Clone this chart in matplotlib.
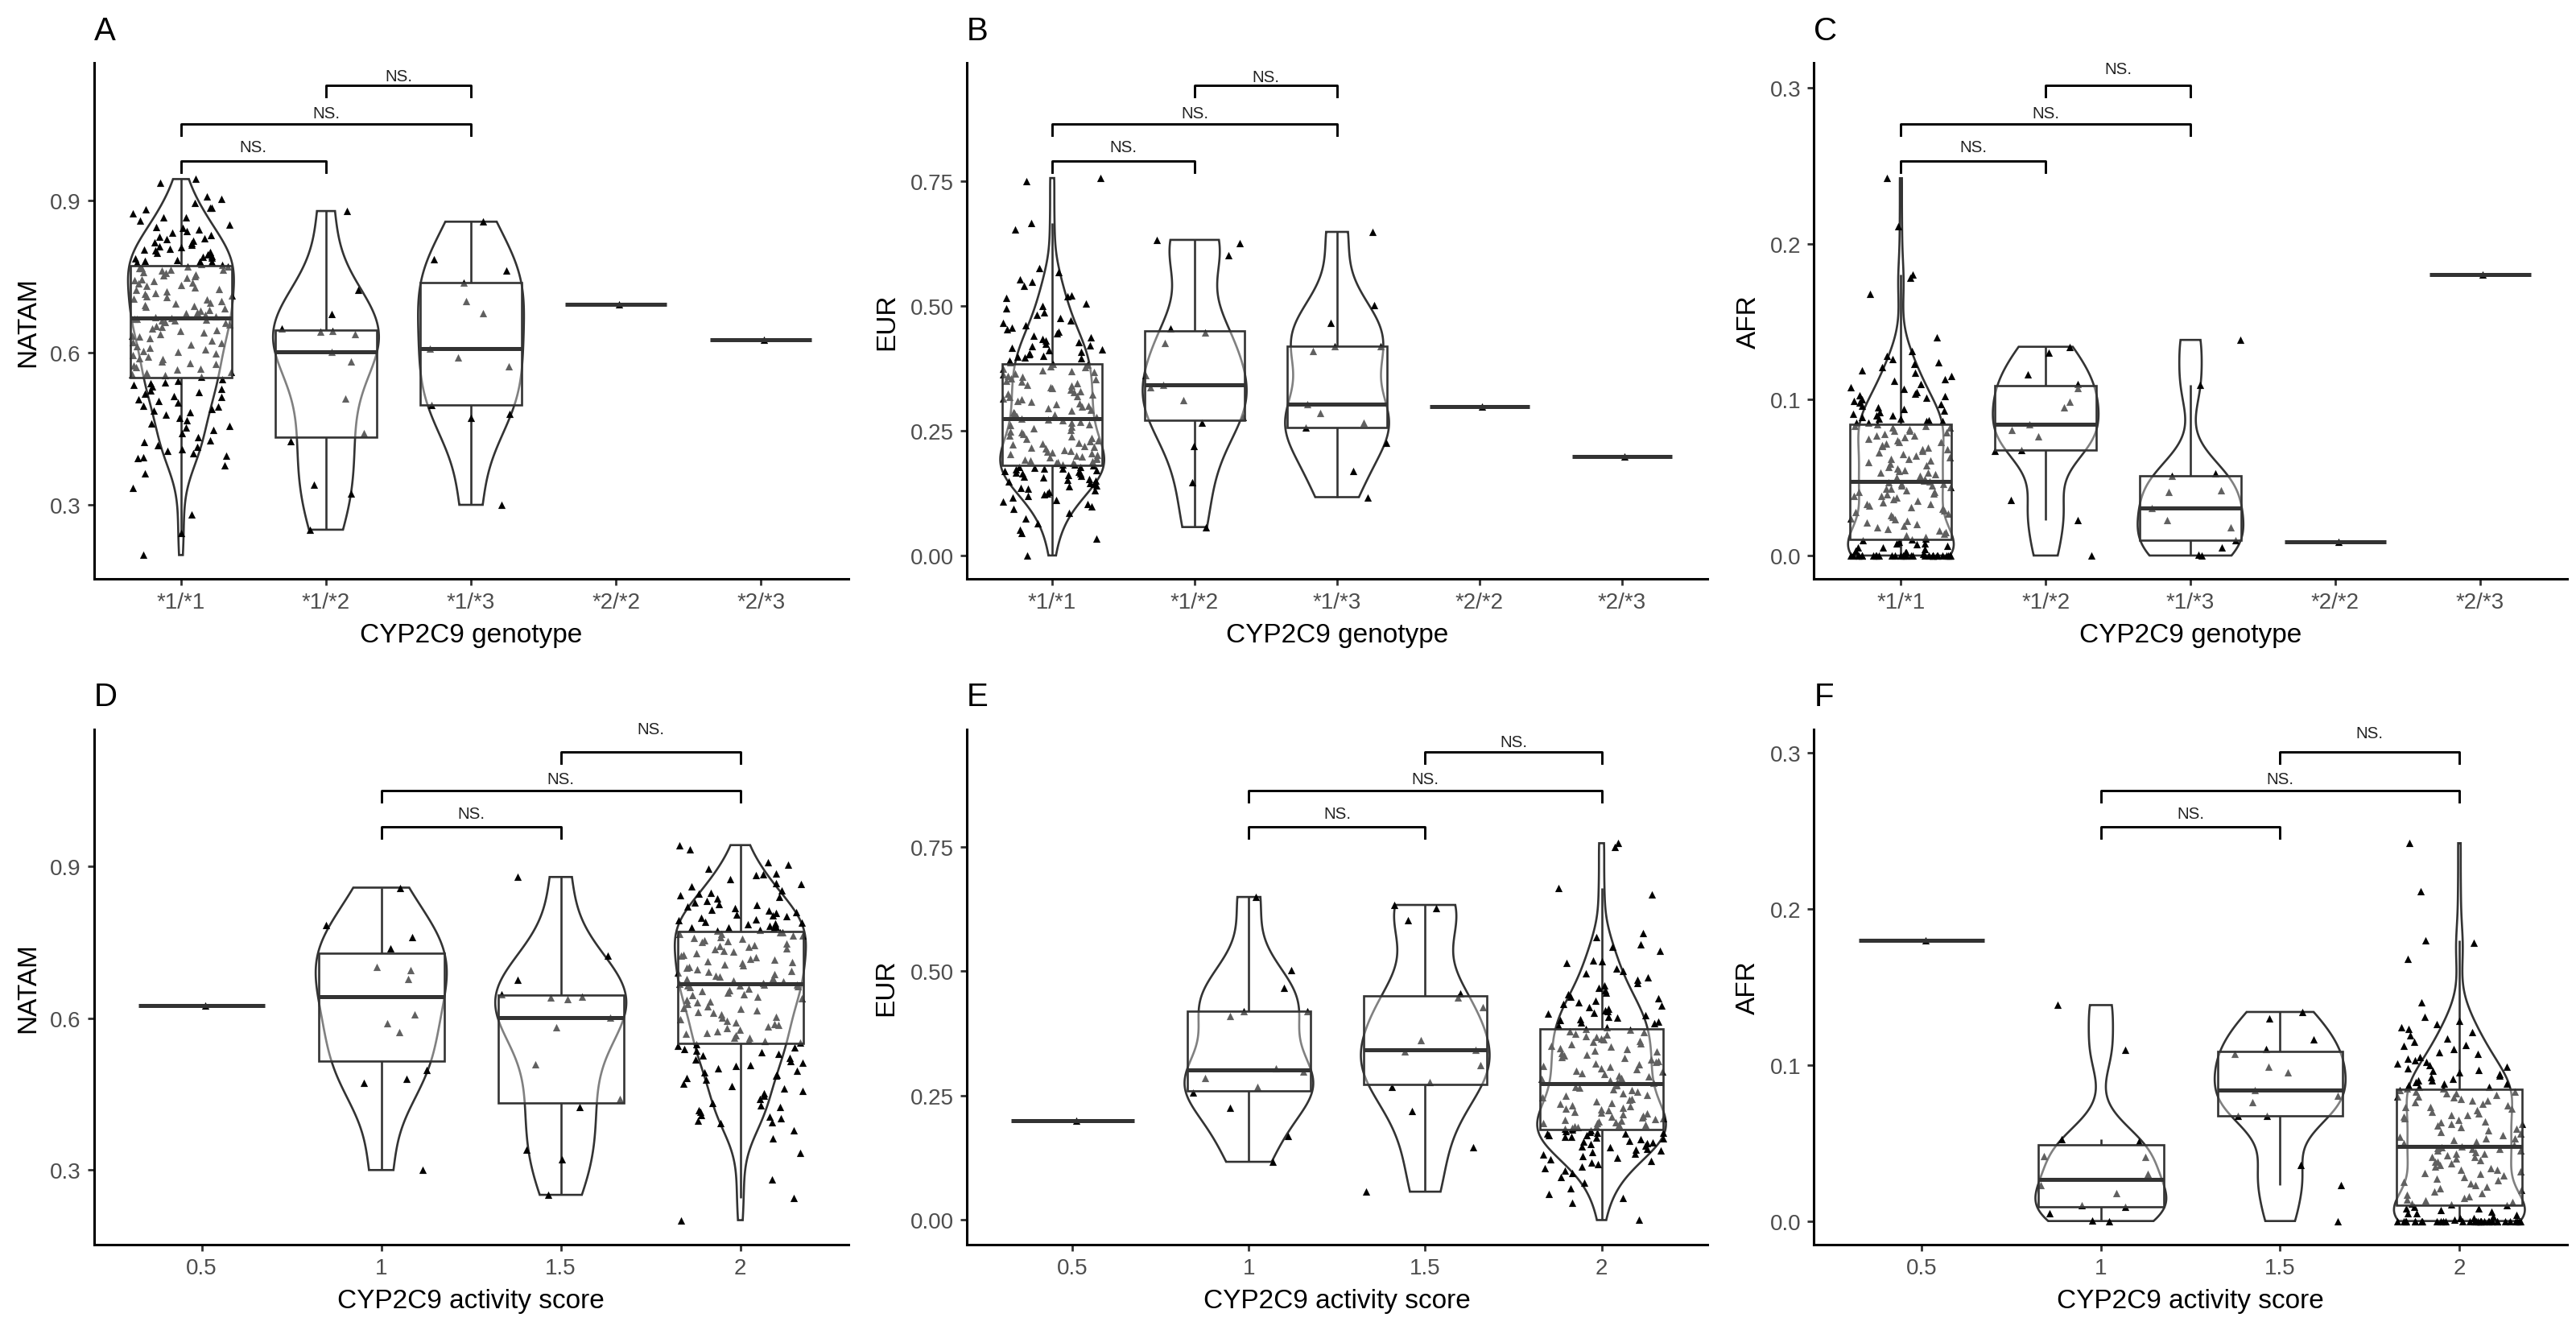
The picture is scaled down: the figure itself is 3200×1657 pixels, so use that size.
import numpy as np
import matplotlib
matplotlib.use("Agg")
import matplotlib.pyplot as plt
from matplotlib.patches import Rectangle, Polygon
from matplotlib.transforms import blended_transform_factory

plt.rcParams['font.family'] = ['Liberation Sans', 'DejaVu Sans']

# ---------------- data ----------------
GENOTYPES = ['*1/*1', '*1/*2', '*1/*3', '*2/*2', '*2/*3']
SCORES = ['0.5', '1', '1.5', '2']
GENO_TO_SCORE = {'*1/*1': '2', '*1/*2': '1.5', '*1/*3': '1', '*2/*2': '1', '*2/*3': '0.5'}

NATAM_11 = [0.201, 0.245, 0.281, 0.334, 0.362, 0.378, 0.392, 0.394, 0.397, 0.402,
            0.406, 0.409, 0.415, 0.418, 0.424, 0.427, 0.433, 0.441, 0.447, 0.452,
            0.456, 0.461, 0.466, 0.471, 0.478, 0.482, 0.486, 0.489, 0.493, 0.496,
            0.501, 0.505, 0.508, 0.512, 0.515, 0.519, 0.522, 0.526, 0.529, 0.533,
            0.536, 0.539, 0.542, 0.545, 0.548,
            0.552, 0.555, 0.557, 0.561, 0.562, 0.566, 0.569, 0.571, 0.574, 0.578,
            0.580, 0.583, 0.587, 0.589, 0.592, 0.595, 0.598, 0.601, 0.603, 0.607,
            0.610, 0.612, 0.616, 0.619, 0.621, 0.624, 0.628, 0.631, 0.633, 0.636,
            0.640, 0.642, 0.645, 0.648, 0.650, 0.653, 0.656, 0.658, 0.661, 0.663,
            0.664, 0.665, 0.666, 0.667, 0.668,
            0.669, 0.672, 0.674, 0.677, 0.679, 0.682, 0.684, 0.687, 0.690, 0.692,
            0.694, 0.697, 0.699, 0.702, 0.704, 0.706, 0.709, 0.711, 0.713, 0.716,
            0.718, 0.721, 0.723, 0.726, 0.728, 0.731, 0.733, 0.736, 0.738, 0.741,
            0.743, 0.745, 0.748, 0.750, 0.752, 0.754, 0.757, 0.759, 0.761, 0.763,
            0.764, 0.766, 0.767, 0.769, 0.770,
            0.773, 0.775, 0.777, 0.779, 0.780, 0.781, 0.783, 0.785, 0.787, 0.789,
            0.791, 0.794, 0.796, 0.799, 0.801, 0.803, 0.805, 0.808, 0.810, 0.813,
            0.815, 0.818, 0.821, 0.824, 0.826, 0.829, 0.832, 0.836, 0.839, 0.843,
            0.846, 0.848, 0.853, 0.860, 0.866, 0.867, 0.875, 0.883, 0.885, 0.886,
            0.895, 0.903, 0.908, 0.934, 0.942]
NATAM_12 = [0.251, 0.322, 0.340, 0.425, 0.441, 0.509, 0.582, 0.601, 0.637, 0.641,
            0.642, 0.648, 0.676, 0.724, 0.879]
NATAM_13 = [0.300, 0.472, 0.480, 0.497, 0.573, 0.590, 0.608, 0.677, 0.701, 0.738,
            0.761, 0.784, 0.858]
NATAM_22 = [0.695]
NATAM_23 = [0.625]

EUR_11 = [0.000, 0.034, 0.045, 0.052, 0.064, 0.075, 0.086, 0.094, 0.099, 0.104,
          0.108, 0.112, 0.116, 0.119, 0.122, 0.125, 0.128, 0.131, 0.134, 0.136,
          0.139, 0.141, 0.143, 0.146, 0.148, 0.150, 0.152, 0.154, 0.156, 0.158,
          0.160, 0.162, 0.164, 0.165, 0.167, 0.168, 0.170, 0.171, 0.173, 0.174,
          0.175, 0.176, 0.177, 0.178, 0.180,
          0.182, 0.183, 0.185, 0.186, 0.188, 0.189, 0.191, 0.192, 0.194, 0.195,
          0.197, 0.198, 0.200, 0.201, 0.203, 0.205, 0.206, 0.208, 0.210, 0.212,
          0.214, 0.216, 0.218, 0.220, 0.222, 0.224, 0.226, 0.229, 0.231, 0.234,
          0.236, 0.239, 0.241, 0.244, 0.247, 0.249, 0.252, 0.255, 0.258, 0.261,
          0.263, 0.266, 0.268, 0.271, 0.273,
          0.275, 0.278, 0.280, 0.283, 0.285, 0.288, 0.290, 0.293, 0.295, 0.298,
          0.300, 0.303, 0.305, 0.308, 0.310, 0.313, 0.315, 0.318, 0.320, 0.323,
          0.325, 0.328, 0.330, 0.333, 0.335, 0.338, 0.340, 0.343, 0.345, 0.348,
          0.350, 0.353, 0.355, 0.358, 0.360, 0.363, 0.365, 0.368, 0.370, 0.372,
          0.375, 0.377, 0.379, 0.382, 0.384,
          0.387, 0.391, 0.395, 0.397, 0.399, 0.401, 0.404, 0.406, 0.409, 0.411,
          0.414, 0.416, 0.419, 0.422, 0.425, 0.428, 0.431, 0.434, 0.437, 0.441,
          0.445, 0.449, 0.453, 0.457, 0.461, 0.466, 0.471, 0.476, 0.482, 0.488,
          0.495, 0.501, 0.505, 0.516, 0.520, 0.522, 0.541, 0.549, 0.554, 0.569,
          0.576, 0.654, 0.667, 0.750, 0.757]
EUR_12 = [0.057, 0.147, 0.219, 0.267, 0.277, 0.311, 0.338, 0.342, 0.362, 0.427,
          0.447, 0.455, 0.603, 0.627, 0.633]
EUR_13 = [0.117, 0.169, 0.226, 0.257, 0.267, 0.285, 0.304, 0.410, 0.419, 0.420,
          0.466, 0.502, 0.649]
EUR_22 = [0.298]
EUR_23 = [0.199]

AFR_11 = [0.0] * 32 + [
          0.001, 0.002, 0.002, 0.003, 0.004, 0.005, 0.005, 0.006, 0.007, 0.008,
          0.008, 0.009, 0.010,
          0.0105, 0.011, 0.012, 0.013, 0.014, 0.015, 0.016, 0.017, 0.018, 0.019,
          0.020, 0.021, 0.022, 0.023, 0.024, 0.025, 0.026, 0.027, 0.028, 0.029,
          0.030, 0.031, 0.032, 0.033, 0.033, 0.034, 0.035, 0.036, 0.037, 0.038,
          0.038, 0.039, 0.040, 0.041, 0.041, 0.042, 0.043, 0.043, 0.044, 0.045,
          0.045, 0.046, 0.046, 0.047, 0.0475,
          0.048, 0.049, 0.050, 0.051, 0.052, 0.053, 0.053, 0.054, 0.055, 0.056,
          0.057, 0.058, 0.059, 0.060, 0.061, 0.062, 0.062, 0.063, 0.064, 0.065,
          0.066, 0.067, 0.068, 0.068, 0.069, 0.070, 0.071, 0.072, 0.073, 0.073,
          0.074, 0.075, 0.076, 0.077, 0.077, 0.078, 0.079, 0.080, 0.080, 0.081,
          0.082, 0.082, 0.083, 0.083, 0.084,
          0.085, 0.085, 0.086, 0.086, 0.087, 0.088, 0.088, 0.089, 0.090, 0.090,
          0.091, 0.092, 0.093, 0.094, 0.095, 0.096, 0.097, 0.098, 0.099, 0.100,
          0.101, 0.102, 0.103, 0.104, 0.105, 0.107, 0.108, 0.110, 0.112, 0.113,
          0.115, 0.117, 0.119, 0.121, 0.123, 0.124, 0.126, 0.128, 0.131, 0.140,
          0.168, 0.178, 0.180, 0.211, 0.242]
AFR_12 = [0.000, 0.0228, 0.0358, 0.0673, 0.0676, 0.0763, 0.0804, 0.084, 0.0952,
          0.0986, 0.1073, 0.1102, 0.1162, 0.1300, 0.1339]
AFR_13 = [0.000, 0.0005, 0.0051, 0.010, 0.018, 0.0228, 0.0303, 0.041, 0.0418,
          0.0509, 0.0525, 0.1095, 0.1383]
AFR_22 = [0.009]
AFR_23 = [0.180]

NATAM = {'*1/*1': NATAM_11, '*1/*2': NATAM_12, '*1/*3': NATAM_13, '*2/*2': NATAM_22, '*2/*3': NATAM_23}
EUR = {'*1/*1': EUR_11, '*1/*2': EUR_12, '*1/*3': EUR_13, '*2/*2': EUR_22, '*2/*3': EUR_23}
AFR = {'*1/*1': AFR_11, '*1/*2': AFR_12, '*1/*3': AFR_13, '*2/*2': AFR_22, '*2/*3': AFR_23}


def by_score(d):
    out = {s: [] for s in SCORES}
    for g in GENOTYPES:
        out[GENO_TO_SCORE[g]].extend(d[g])
    return out


# ---------------- drawing helpers ----------------
LINE = '#333333'
BOX_W = 0.70
VIO_W = 0.73
JIT = 0.35
LW = 0.95


def kde_violin(ax, x, v):
    v = np.asarray(v, float)
    n = len(v)
    sd = v.std(ddof=1)
    iqr = np.subtract(*np.percentile(v, [75, 25]))
    lo = min(sd, iqr / 1.34) if iqr > 0 else sd
    bw = 0.9 * lo * n ** (-0.2)
    y = np.linspace(v.min(), v.max(), 512)
    dens = np.exp(-0.5 * ((y[:, None] - v[None, :]) / bw) ** 2).sum(axis=1)
    hw = 0.5 * VIO_W * dens / dens.max()
    xs = np.concatenate([x - hw, (x + hw)[::-1]])
    ys = np.concatenate([y, y[::-1]])
    ax.add_patch(Polygon(np.column_stack([xs, ys]), closed=True, fill=False,
                         edgecolor=LINE, lw=LW, zorder=2))


def draw_group(ax, x, vals, rng):
    v = np.asarray(vals, float)
    n = len(v)
    if n >= 2:
        kde_violin(ax, x, v)
    q1, med, q3 = np.percentile(v, [25, 50, 75])
    iqr = q3 - q1
    wlo = v[v >= q1 - 1.5 * iqr].min()
    whi = v[v <= q3 + 1.5 * iqr].max()
    if n >= 2:
        ax.plot([x, x], [wlo, q1], color=LINE, lw=LW, zorder=2, solid_capstyle='butt')
        ax.plot([x, x], [q3, whi], color=LINE, lw=LW, zorder=2, solid_capstyle='butt')
    jx = x + rng.uniform(-JIT, JIT, n) if n > 1 else np.array([x + 0.02])
    ax.scatter(jx, v, marker='^', s=11, color='black', linewidths=0, zorder=3)
    if n >= 2:
        ax.add_patch(Rectangle((x - BOX_W / 2, q1), BOX_W, q3 - q1,
                               facecolor=(1, 1, 1, 0.38), edgecolor=LINE,
                               lw=LW, zorder=4))
    ax.plot([x - BOX_W / 2, x + BOX_W / 2], [med, med], color=LINE, lw=1.8,
            zorder=5, solid_capstyle='butt')


def bracket(ax, x1, x2, yf, tf, label='NS.'):
    tr = blended_transform_factory(ax.transData, ax.transAxes)
    tip = 0.022
    ax.plot([x1, x1, x2, x2], [yf - tip, yf, yf, yf - tip], color='black',
            lw=1.05, transform=tr, clip_on=False, zorder=6)
    ax.text((x1 + x2) / 2, tf, label, transform=tr, ha='center', va='center',
            fontsize=7.4, color='#222222', clip_on=False)


def style_axes(ax, ylim, yticks, yticklabels, xticks, xticklabels, xlabel, ylabel,
               ylab_x, tag, xlim):
    ax.set_xlim(*xlim)
    ax.set_ylim(*ylim)
    for s in ['top', 'right']:
        ax.spines[s].set_visible(False)
    for s in ['left', 'bottom']:
        ax.spines[s].set_linewidth(1.1)
        ax.spines[s].set_color('black')
    ax.set_yticks(yticks)
    ax.set_yticklabels(yticklabels)
    ax.set_xticks(xticks)
    ax.set_xticklabels(xticklabels)
    ax.tick_params(axis='both', direction='out', length=2.9, width=1.0,
                   color='#333333', labelsize=10, labelcolor='#4D4D4D', pad=2.8)
    ax.set_xlabel(xlabel, fontsize=12, color='black')
    ax.xaxis.set_label_coords(0.5, -0.109)
    ax.xaxis.label.set_verticalalignment('center')
    ax.set_ylabel(ylabel, fontsize=12, color='black')
    ax.yaxis.set_label_coords(ylab_x, 0.5)
    ax.yaxis.label.set_verticalalignment('center')
    ax.text(0.0, 1.063, tag, transform=ax.transAxes, ha='left', va='center',
            fontsize=14.5, color='black')


# ---------------- figure ----------------
fig = plt.figure(figsize=(16, 8.29), dpi=200)

rows = [(0.5657, 0.3866), (0.0671, 0.3860)]
cols = [(0.03647, 0.29275), (0.3753, 0.2875), (0.7042, 0.2923)]

panels = [
    # (row, col, data, kind, ylim, yticks, yticklabels, ylabel, ylab_x, tag, top_text)
    (0, 0, NATAM, 'geno', (0.154, 1.171), [0.3, 0.6, 0.9], ['0.3', '0.6', '0.9'], 'NATAM', -0.087, 'A', 0.975),
    (0, 1, EUR, 'geno', (-0.047, 0.988), [0, 0.25, 0.5, 0.75], ['0.00', '0.25', '0.50', '0.75'], 'EUR', -0.108, 'B', 0.973),
    (0, 2, AFR, 'geno', (-0.015, 0.316), [0, 0.1, 0.2, 0.3], ['0.0', '0.1', '0.2', '0.3'], 'AFR', -0.087, 'C', 0.988),
    (1, 0, NATAM, 'score', (0.153, 1.171), [0.3, 0.6, 0.9], ['0.3', '0.6', '0.9'], 'NATAM', -0.087, 'D', 1.0),
    (1, 1, EUR, 'score', (-0.049, 0.986), [0, 0.25, 0.5, 0.75], ['0.00', '0.25', '0.50', '0.75'], 'EUR', -0.109, 'E', 0.976),
    (1, 2, AFR, 'score', (-0.015, 0.315), [0, 0.1, 0.2, 0.3], ['0.0', '0.1', '0.2', '0.3'], 'AFR', -0.0875, 'F', 0.992),
]

for i, (r, c, data, kind, ylim, yt, ytl, ylab, ylx, tag, ttop) in enumerate(panels):
    b, h = rows[r]
    l, w = cols[c]
    ax = fig.add_axes([l, b, w, h])
    rng = np.random.default_rng(11 + i)
    if kind == 'geno':
        cats = GENOTYPES
        groups = data
        xlabel = 'CYP2C9 genotype'
        pairs = [(1, 2), (1, 3), (2, 3)]
    else:
        cats = SCORES
        groups = by_score(data)
        xlabel = 'CYP2C9 activity score'
        pairs = [(2, 3), (2, 4), (3, 4)]
    xs = np.arange(1, len(cats) + 1)
    for x, cat in zip(xs, cats):
        draw_group(ax, x, groups[cat], rng)
    style_axes(ax, ylim, yt, ytl, xs, cats, xlabel, ylab, ylx, tag,
               (0.4, len(cats) + 0.6))
    for (p, yf, tf) in zip(pairs, [0.810, 0.881, 0.956], [0.837, 0.903, ttop]):
        bracket(ax, p[0], p[1], yf, tf)

fig.savefig('out.png', dpi=200)
